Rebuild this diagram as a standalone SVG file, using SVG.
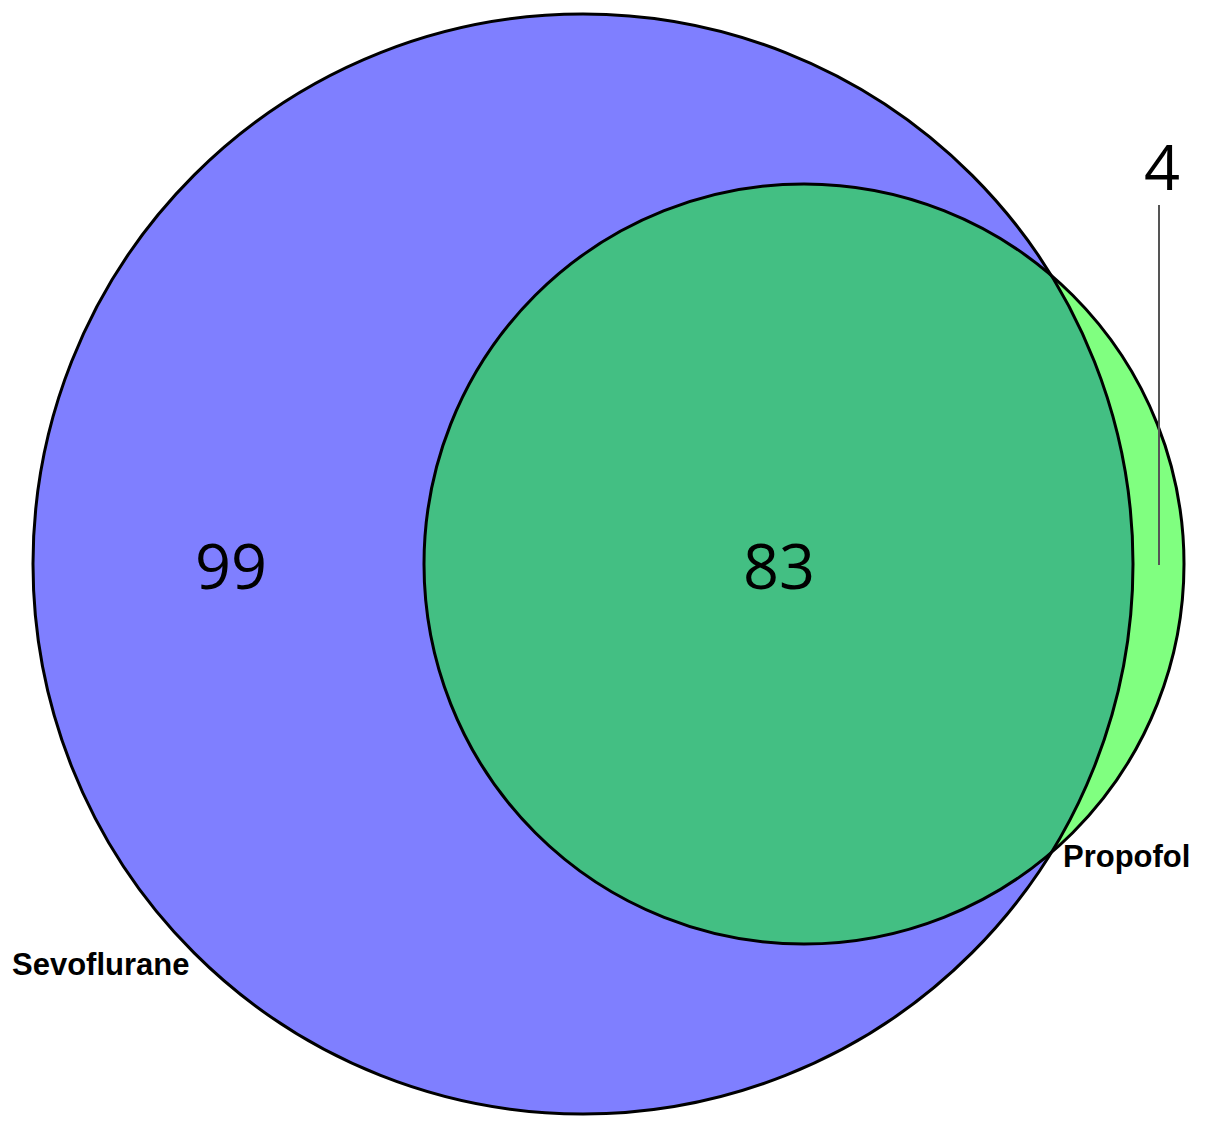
<svg xmlns="http://www.w3.org/2000/svg" width="1205" height="1129" viewBox="0 0 1205 1129">
<style>
.edge{fill:none;stroke:#000;stroke-width:3}
.num{font-family:"Open Sans","DejaVu Sans",sans-serif;font-size:63px;fill:#000;text-anchor:middle}
.lbl{font-family:"Liberation Sans",Arial,sans-serif;font-weight:bold;font-size:31px;fill:#000}
</style>
<defs>
<clipPath id="clipBig"><circle cx="583" cy="564" r="550"/></clipPath>
</defs>
<rect width="1205" height="1129" fill="#fff"/>
<g id="sevoflurane">
<circle cx="583" cy="564" r="550" fill="#7F7FFF"/>
</g>
<g id="propofol">
<circle cx="804" cy="564" r="380" fill="#80FF80"/>
</g>
<g id="overlap">
<circle cx="804" cy="564" r="380" fill="#43BF83" clip-path="url(#clipBig)"/>
</g>
<g id="outlines">
<circle class="edge" cx="583" cy="564" r="550"/>
<circle class="edge" cx="804" cy="564" r="380"/>
</g>
<g id="connectors">
<line x1="1159" y1="205" x2="1159" y2="565" stroke="#555" stroke-width="2"/>
</g>
<g id="labels">
<text class="num" x="231" y="589">99</text>
<text class="num" x="779" y="589">83</text>
<text class="num" x="1162" y="190">4</text>
<text class="lbl" x="12" y="975">Sevoflurane</text>
<text class="lbl" x="1063" y="867">Propofol</text>
</g>
</svg>
